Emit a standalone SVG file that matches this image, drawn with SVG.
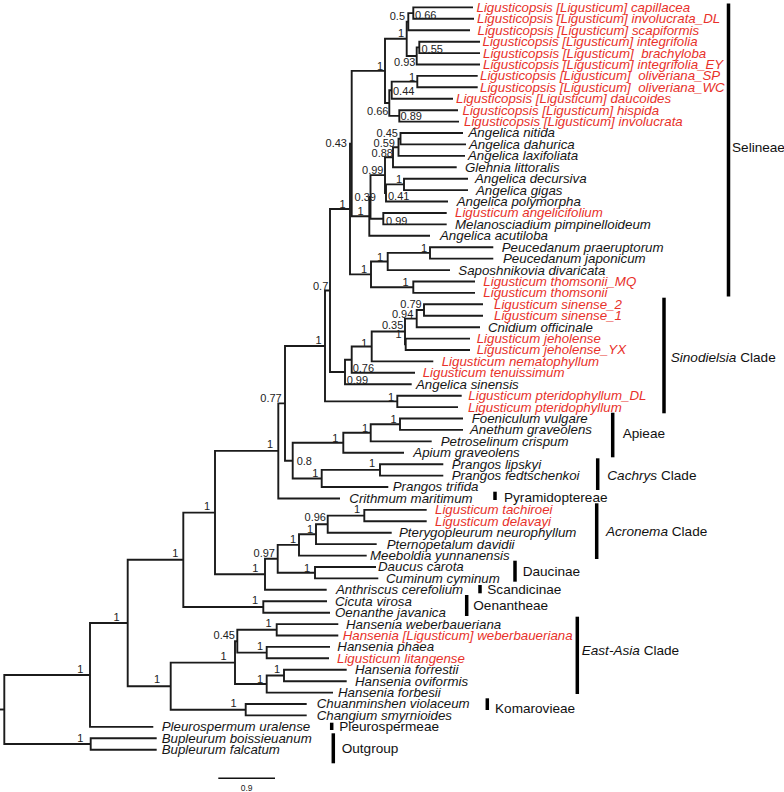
<svg xmlns="http://www.w3.org/2000/svg" width="784" height="792" viewBox="0 0 784 792">
<style>
.br{fill:none;stroke:#1b1b1b;stroke-width:1.9;stroke-linejoin:miter}
.tx{font-family:"Liberation Sans",Arial,sans-serif;font-style:italic;font-size:13.3px;fill:#151515}
.r{fill:#e8312a}
.nl{font-family:"Liberation Sans",Arial,sans-serif;font-size:11px;fill:#222}
.e{text-anchor:end}
.cl{font-family:"Liberation Sans",Arial,sans-serif;font-size:13.6px;fill:#111}
.it{font-style:italic}
.bar{stroke:#000;stroke-width:3.5}
</style>
<rect width="784" height="792" fill="#fff"/>
<g id="connectors" class="br">
<path d="M473 7.4H413.3V18.8H474"/>
<path d="M413.3 13.1H408.3V30.2H470"/>
<path d="M480 41.7H419.3V53.1H480"/>
<path d="M419.3 47.4H416.7V64.5H480"/>
<path d="M408.3 21.7H406.7V56H416.7"/>
<path d="M477.7 75.9H417.3V87.3H477.7"/>
<path d="M417.3 81.6H391.7V98.8H453"/>
<path d="M458 110.2H399.3V121.6H459"/>
<path d="M391.7 90.2H389.3V115.9H399.3"/>
<path d="M406.7 38.8H385V103H389.3"/>
<path d="M463 133H400.5V144.4H466"/>
<path d="M400.5 138.7H398.5V155.9H465"/>
<path d="M398.5 147.3H393V167.3H456.7"/>
<path d="M468 178.7H404V190.1H468"/>
<path d="M404 184.4H386V201.5H448"/>
<path d="M393 157.3H385V193H386"/>
<path d="M446.7 213H383.3V224.4H446.7"/>
<path d="M385 175.1H370.5V218.7H383.3"/>
<path d="M370.5 196.9H369.3V235.8H430"/>
<path d="M385 70.9H351.7V216.3H369.3"/>
<path d="M493.3 247.2H430V258.6H493.3"/>
<path d="M430 252.9H387.7V270.1H450"/>
<path d="M475 281.5H413.3V292.9H475"/>
<path d="M387.7 261.5H371V287.2H413.3"/>
<path d="M351.7 143.6H350V274.4H371"/>
<path d="M483 304.3H424V315.7H483"/>
<path d="M424 310H416.7V327.2H480"/>
<path d="M470 338.6H405.7V350H470"/>
<path d="M416.7 318.6H405V344.3H405.7"/>
<path d="M405 331.5H371.7V361.4H433.3"/>
<path d="M371.7 346.5H351.7V372.8H415"/>
<path d="M351.7 359.7H345V384.3H411.7"/>
<path d="M350 209H330V372H345"/>
<path d="M461.7 395.7H397.3V407.1H458"/>
<path d="M330 290.5H325V401.4H397.3"/>
<path d="M463 418.5H400V429.9H463"/>
<path d="M400 424.2H370.7V441.4H431.7"/>
<path d="M370.7 432.8H343.3V452.8H404"/>
<path d="M443.3 464.2H380V475.6H443.3"/>
<path d="M380 469.9H321.7V487H388.3"/>
<path d="M343.3 442.8H292.7V478.5H321.7"/>
<path d="M325 346H285V460.7H292.7"/>
<path d="M285 403.4H278.3V498.5H340"/>
<path d="M426.7 509.9H364.3V521.3H426.7"/>
<path d="M364.3 515.6H327.7V532.7H391.7"/>
<path d="M327.7 524.2H316V544.1H376.7"/>
<path d="M316 534.2H299V555.6H366.7"/>
<path d="M376 567H315V578.4H378.3"/>
<path d="M299 544.9H277.7V572.7H315"/>
<path d="M277.7 558.8H265V589.8H326.7"/>
<path d="M278.3 450.9H215V574.3H265"/>
<path d="M327 601.2H263.3V612.7H330"/>
<path d="M215 512.6H183.3V607H263.3"/>
<path d="M338.3 624.1H276.7V635.5H338.3"/>
<path d="M330 646.9H266.7V658.3H329"/>
<path d="M276.7 629.8H237.3V652.6H266.7"/>
<path d="M346.7 669.8H284V681.2H346.7"/>
<path d="M284 675.5H266.7V692.6H333"/>
<path d="M237.3 641.2H235V684H266.7"/>
<path d="M306.7 704H245.7V715.4H306.7"/>
<path d="M235 662.6H170.7V709.7H245.7"/>
<path d="M183.3 559.8H127.7V686.2H170.7"/>
<path d="M127.7 623H90V726.9H153.3"/>
<path d="M156.7 738.3H90.7V749.7H156.7"/>
<path d="M90 675H4.3V744H90.7"/>
<path d="M0 709.5H4.3"/>
</g>
<g id="leaves">
<g id="L01"><text class="tx r" x="476.5" y="11.8">Ligusticopsis [Ligusticum] capillacea</text></g>
<g id="L02"><text class="tx r" x="477" y="23.2">Ligusticopsis [Ligusticum] involucrata_DL</text></g>
<g id="L03"><text class="tx r" x="477.5" y="34.6">Ligusticopsis [Ligusticum] scapiformis</text></g>
<g id="L04"><text class="tx r" x="482.5" y="46.1">Ligusticopsis [Ligusticum] integrifolia</text></g>
<g id="L05"><text class="tx r" x="483" y="57.5" xml:space="preserve">Ligusticopsis [Ligusticum]  brachyloba</text></g>
<g id="L06"><text class="tx r" x="483" y="68.9">Ligusticopsis [Ligusticum] integrifolia_EY</text></g>
<g id="L07"><text class="tx r" x="480" y="80.3" xml:space="preserve">Ligusticopsis [Ligusticum]  oliveriana_SP</text></g>
<g id="L08"><text class="tx r" x="480" y="91.7" xml:space="preserve">Ligusticopsis [Ligusticum]  oliveriana_WC</text></g>
<g id="L09"><text class="tx r" x="456" y="103.2">Ligusticopsis [Ligusticum] daucoides</text></g>
<g id="L10"><text class="tx r" x="462.5" y="114.6">Ligusticopsis [Ligusticum] hispida</text></g>
<g id="L11"><text class="tx r" x="464" y="126">Ligusticopsis [Ligusticum] involucrata</text></g>
<g id="L12"><text class="tx" x="468.5" y="137.4">Angelica nitida</text></g>
<g id="L13"><text class="tx" x="469" y="148.8">Angelica dahurica</text></g>
<g id="L14"><text class="tx" x="468" y="160.3">Angelica laxifoliata</text></g>
<g id="L15"><text class="tx" x="465" y="171.7">Glehnia littoralis</text></g>
<g id="L16"><text class="tx" x="475" y="183.1">Angelica decursiva</text></g>
<g id="L17"><text class="tx" x="476" y="194.5">Angelica gigas</text></g>
<g id="L18"><text class="tx" x="456.7" y="205.9">Angelica polymorpha</text></g>
<g id="L19"><text class="tx r" x="455" y="217.4">Ligusticum angelicifolium</text></g>
<g id="L20"><text class="tx" x="455" y="228.8">Melanosciadium pimpinelloideum</text></g>
<g id="L21"><text class="tx" x="440" y="240.2">Angelica acutiloba</text></g>
<g id="L22"><text class="tx" x="501.7" y="251.6">Peucedanum praeruptorum</text></g>
<g id="L23"><text class="tx" x="503" y="263">Peucedanum japonicum</text></g>
<g id="L24"><text class="tx" x="458.3" y="274.5">Saposhnikovia divaricata</text></g>
<g id="L25"><text class="tx r" x="483.3" y="285.9">Ligusticum thomsonii_MQ</text></g>
<g id="L26"><text class="tx r" x="483.3" y="297.3">Ligusticum thomsonii</text></g>
<g id="L27"><text class="tx r" x="494" y="308.7">Ligusticum sinense_2</text></g>
<g id="L28"><text class="tx r" x="494" y="320.1">Ligusticum sinense_1</text></g>
<g id="L29"><text class="tx" x="488" y="331.6">Cnidium officinale</text></g>
<g id="L30"><text class="tx r" x="476.7" y="343">Ligusticum jeholense</text></g>
<g id="L31"><text class="tx r" x="476.7" y="354.4">Ligusticum jeholense_YX</text></g>
<g id="L32"><text class="tx r" x="441.7" y="365.8">Ligusticum nematophyllum</text></g>
<g id="L33"><text class="tx r" x="422.7" y="377.2">Ligusticum tenuissimum</text></g>
<g id="L34"><text class="tx" x="416" y="388.7">Angelica sinensis</text></g>
<g id="L35"><text class="tx r" x="468.3" y="400.1">Ligusticum pteridophyllum_DL</text></g>
<g id="L36"><text class="tx r" x="468" y="411.5">Ligusticum pteridophyllum</text></g>
<g id="L37"><text class="tx" x="471.7" y="422.9">Foeniculum vulgare</text></g>
<g id="L38"><text class="tx" x="470" y="434.3">Anethum graveolens</text></g>
<g id="L39"><text class="tx" x="440.7" y="445.8">Petroselinum crispum</text></g>
<g id="L40"><text class="tx" x="413.3" y="457.2">Apium graveolens</text></g>
<g id="L41"><text class="tx" x="451.7" y="468.6">Prangos lipskyi</text></g>
<g id="L42"><text class="tx" x="451.7" y="480">Prangos fedtschenkoi</text></g>
<g id="L43"><text class="tx" x="392.7" y="491.4">Prangos trifida</text></g>
<g id="L44"><text class="tx" x="349.3" y="502.9">Crithmum maritimum</text></g>
<g id="L45"><text class="tx r" x="435" y="514.3">Ligusticum tachiroei</text></g>
<g id="L46"><text class="tx r" x="435" y="525.7">Ligusticum delavayi</text></g>
<g id="L47"><text class="tx" x="399" y="537.1">Pterygopleurum neurophyllum</text></g>
<g id="L48"><text class="tx" x="386.7" y="548.5">Pternopetalum davidii</text></g>
<g id="L49"><text class="tx" x="370" y="560">Meeboldia yunnanensis</text></g>
<g id="L50"><text class="tx" x="378" y="571.4">Daucus carota</text></g>
<g id="L51"><text class="tx" x="386" y="582.8">Cuminum cyminum</text></g>
<g id="L52"><text class="tx" x="336" y="594.2">Anthriscus cerefolium</text></g>
<g id="L53"><text class="tx" x="335" y="605.6">Cicuta virosa</text></g>
<g id="L54"><text class="tx" x="335" y="617.1">Oenanthe javanica</text></g>
<g id="L55"><text class="tx" x="346" y="628.5">Hansenia weberbaueriana</text></g>
<g id="L56"><text class="tx r" x="342.7" y="639.9">Hansenia [Ligusticum] weberbaueriana</text></g>
<g id="L57"><text class="tx" x="337.3" y="651.3">Hansenia phaea</text></g>
<g id="L58"><text class="tx r" x="337" y="662.7">Ligusticum litangense</text></g>
<g id="L59"><text class="tx" x="355" y="674.2">Hansenia forrestii</text></g>
<g id="L60"><text class="tx" x="355" y="685.6">Hansenia oviformis</text></g>
<g id="L61"><text class="tx" x="338" y="697">Hansenia forbesii</text></g>
<g id="L62"><text class="tx" x="316.7" y="708.4">Chuanminshen violaceum</text></g>
<g id="L63"><text class="tx" x="316.7" y="719.8">Changium smyrnioides</text></g>
<g id="L64"><text class="tx" x="161.7" y="731.3">Pleurospermum uralense</text></g>
<g id="L65"><text class="tx" x="161.7" y="742.7">Bupleurum boissieuanum</text></g>
<g id="L66"><text class="tx" x="161.7" y="754.1">Bupleurum falcatum</text></g>
</g>
<g id="support">
<g id="n01"><text class="nl" x="415" y="19">0.66</text></g>
<g id="n02"><text class="nl e" x="405" y="20">0.5</text></g>
<g id="n03"><text class="nl" x="421.5" y="52.5">0.55</text></g>
<g id="n04"><text class="nl e" x="415.5" y="66">0.93</text></g>
<g id="n05"><text class="nl e" x="404" y="37">1</text></g>
<g id="n06"><text class="nl e" x="415" y="80.5">1</text></g>
<g id="n07"><text class="nl" x="393" y="95">0.44</text></g>
<g id="n08"><text class="nl" x="400.5" y="120">0.89</text></g>
<g id="n09"><text class="nl e" x="388.5" y="114.5">0.66</text></g>
<g id="n10"><text class="nl e" x="383" y="69.5">1</text></g>
<g id="n11"><text class="nl e" x="398" y="137">0.45</text></g>
<g id="n12"><text class="nl e" x="395" y="146.5">0.59</text></g>
<g id="n13"><text class="nl e" x="393" y="156.5">0.88</text></g>
<g id="n14"><text class="nl e" x="402" y="182.5">1</text></g>
<g id="n15"><text class="nl" x="388" y="200">0.41</text></g>
<g id="n16"><text class="nl e" x="383.5" y="174">0.99</text></g>
<g id="n17"><text class="nl" x="386" y="225">0.99</text></g>
<g id="n18"><text class="nl e" x="376" y="200.5">0.39</text></g>
<g id="n19"><text class="nl e" x="363.5" y="215">1</text></g>
<g id="n20"><text class="nl e" x="347" y="146.5">0.43</text></g>
<g id="n21"><text class="nl e" x="427" y="251.5">1</text></g>
<g id="n22"><text class="nl e" x="383" y="260.5">1</text></g>
<g id="n23"><text class="nl e" x="408.5" y="286">1</text></g>
<g id="n24"><text class="nl e" x="367" y="273">1</text></g>
<g id="n25"><text class="nl e" x="345.5" y="208">1</text></g>
<g id="n26"><text class="nl e" x="421.7" y="308.3">0.79</text></g>
<g id="n27"><text class="nl e" x="413.3" y="318">0.94</text></g>
<g id="n28"><text class="nl e" x="401.7" y="338.3">1</text></g>
<g id="n29"><text class="nl e" x="403.3" y="329.3">0.35</text></g>
<g id="n30"><text class="nl e" x="367.3" y="346.5">1</text></g>
<g id="n31"><text class="nl" x="352.7" y="371.5">0.76</text></g>
<g id="n32"><text class="nl" x="346.7" y="383.5">0.99</text></g>
<g id="n33"><text class="nl e" x="328.3" y="290">0.7</text></g>
<g id="n34"><text class="nl e" x="394" y="400.5">1</text></g>
<g id="n35"><text class="nl e" x="321.7" y="344">1</text></g>
<g id="n36"><text class="nl e" x="396.7" y="422.5">1</text></g>
<g id="n37"><text class="nl e" x="368" y="431.5">1</text></g>
<g id="n38"><text class="nl e" x="338.3" y="441.5">1</text></g>
<g id="n39"><text class="nl e" x="375" y="467">1</text></g>
<g id="n40"><text class="nl e" x="318.3" y="476.5">1</text></g>
<g id="n41"><text class="nl" x="296.7" y="465">0.8</text></g>
<g id="n42"><text class="nl e" x="281.7" y="401.7">0.77</text></g>
<g id="n43"><text class="nl e" x="273" y="448.3">1</text></g>
<g id="n44"><text class="nl e" x="360" y="512.7">1</text></g>
<g id="n45"><text class="nl e" x="326" y="520.7">0.96</text></g>
<g id="n46"><text class="nl e" x="313" y="532.5">1</text></g>
<g id="n47"><text class="nl e" x="296" y="543">1</text></g>
<g id="n48"><text class="nl e" x="310" y="572">1</text></g>
<g id="n49"><text class="nl e" x="275" y="556.7">0.97</text></g>
<g id="n50"><text class="nl e" x="258.3" y="571.7">1</text></g>
<g id="n51"><text class="nl e" x="210" y="510">1</text></g>
<g id="n52"><text class="nl e" x="258" y="604">1</text></g>
<g id="n53"><text class="nl e" x="178.3" y="556.7">1</text></g>
<g id="n54"><text class="nl e" x="271.7" y="627">1</text></g>
<g id="n55"><text class="nl e" x="263" y="650">1</text></g>
<g id="n56"><text class="nl e" x="235" y="639.3">0.45</text></g>
<g id="n57"><text class="nl e" x="280" y="673">1</text></g>
<g id="n58"><text class="nl e" x="263" y="682.7">1</text></g>
<g id="n59"><text class="nl e" x="226.7" y="660">1</text></g>
<g id="n60"><text class="nl e" x="236.7" y="707">1</text></g>
<g id="n61"><text class="nl e" x="160" y="683">1</text></g>
<g id="n62"><text class="nl e" x="119.5" y="621">1</text></g>
<g id="n63"><text class="nl e" x="83.3" y="672.5">1</text></g>
<g id="n64"><text class="nl e" x="83.3" y="741.7">1</text></g>
</g>
<g id="clades">
<g id="c-selineae"><line class="bar" x1="728.5" y1="3.5" x2="728.5" y2="296.5"/><text class="cl" x="732" y="151.5">Selineae</text></g>
<g id="c-sinodielsia"><line class="bar" x1="664" y1="297.7" x2="664" y2="413.3"/><text class="cl" x="670.7" y="361.5"><tspan class="it">Sinodielsia</tspan> Clade</text></g>
<g id="c-apieae"><line class="bar" x1="612.7" y1="412.7" x2="612.7" y2="457.3"/><text class="cl" x="622.7" y="437.5">Apieae</text></g>
<g id="c-cachrys"><line class="bar" x1="597.7" y1="458.3" x2="597.7" y2="490"/><text class="cl" x="607.3" y="480">
<tspan class="it">Cachrys</tspan> Clade</text></g>
<g id="c-pyramid"><line class="bar" x1="495" y1="491.7" x2="495" y2="500"/><text class="cl" x="504" y="501.5">Pyramidoptereae</text></g>
<g id="c-acronema"><line class="bar" x1="596.7" y1="503.3" x2="596.7" y2="559"/><text class="cl" x="606" y="535.5"><tspan class="it">Acronema</tspan> Clade</text></g>
<g id="c-daucinae"><line class="bar" x1="515" y1="560.7" x2="515" y2="581.7"/><text class="cl" x="522.7" y="575.5">Daucinae</text></g>
<g id="c-scandicinae"><line class="bar" x1="480" y1="585" x2="480" y2="593.3"/><text class="cl" x="487.3" y="594">Scandicinae</text></g>
<g id="c-oenantheae"><line class="bar" x1="466.7" y1="595" x2="466.7" y2="616"/><text class="cl" x="473.3" y="610">Oenantheae</text></g>
<g id="c-eastasia"><line class="bar" x1="577.3" y1="616.7" x2="577.3" y2="694"/><text class="cl" x="581.7" y="655"><tspan class="it">East-Asia</tspan> Clade</text></g>
<g id="c-komarovieae"><line class="bar" x1="487.3" y1="698.3" x2="487.3" y2="710"/><text class="cl" x="495" y="713">Komarovieae</text></g>
<g id="c-pleurospermeae"><line class="bar" x1="331.7" y1="722.7" x2="331.7" y2="730"/><text class="cl" x="339.3" y="731">Pleurospermeae</text></g>
<g id="c-outgroup"><line class="bar" x1="333.3" y1="733.3" x2="333.3" y2="763.3"/><text class="cl" x="341.7" y="753">Outgroup</text></g>
</g>
<g id="scale">
<line x1="218.3" y1="778.3" x2="275" y2="778.3" stroke="#111" stroke-width="1.5"/>
<text x="246.7" y="790.5" text-anchor="middle" font-family="Liberation Sans, Arial, sans-serif" font-size="8.5" fill="#222">0.9</text>
</g>
</svg>
